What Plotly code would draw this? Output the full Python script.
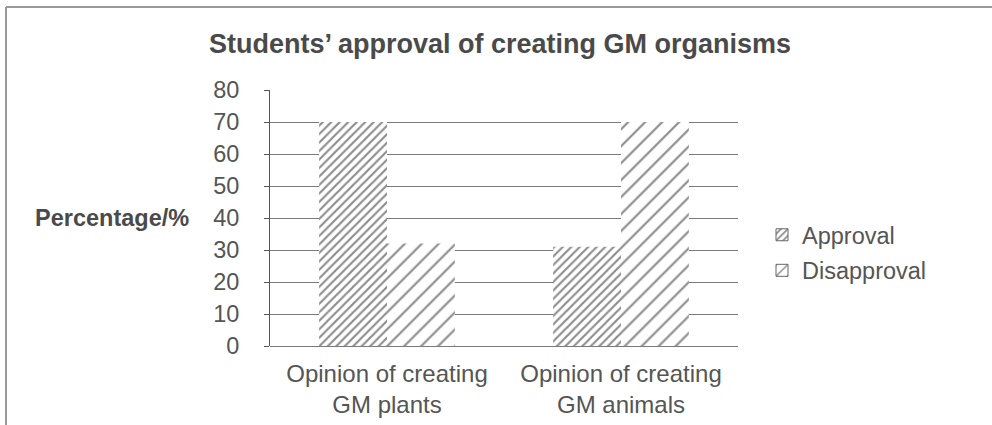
import plotly.graph_objects as go

# Survey results (percent of students)
categories = ["Opinion of creating<br>GM plants", "Opinion of creating<br>GM animals"]
series_names = ["Approval", "Disapproval"]
approval = [70, 31]
disapproval = [32, 70]
y_ticks = [0, 10, 20, 30, 40, 50, 60, 70, 80]

W, H = 992, 425
L, R, T, B = 270, 254, 90, 79  # plot area margins in px

text_col = "#555555"
font_family = "Liberation Sans, Arial, sans-serif"


def px_x(px):
    return (px - L) / (W - L - R)


def px_y(py):
    return (H - B - py) / (H - T - B)


hatch = {
    "Approval": dict(shape="/", size=6, solidity=0.36, fgcolor="#1a1a1a", bgcolor="white"),
    "Disapproval": dict(shape="/", size=12, solidity=0.18, fgcolor="#1a1a1a", bgcolor="white"),
}

fig = go.Figure()
for name, values in zip(series_names, [approval, disapproval]):
    # the bars themselves (no outline)
    fig.add_trace(go.Bar(
        x=categories, y=values, name=name, offsetgroup=name, showlegend=False,
        marker=dict(color="white", line=dict(width=0), pattern=hatch[name]),
    ))
    # legend swatch with a thin grey border
    fig.add_trace(go.Bar(
        x=categories, y=[None] * len(categories), name=name, offsetgroup=name,
        legendgroup=name, showlegend=True, hoverinfo="skip",
        marker=dict(color="white", line=dict(width=1, color="#666666"),
                    pattern=hatch[name]),
    ))

fig.update_layout(
    width=W, height=H,
    margin=dict(l=L, r=R, t=T, b=B, autoexpand=False),
    paper_bgcolor="white", plot_bgcolor="white",
    barmode="group", bargap=0.42, bargroupgap=0,
    font=dict(family=font_family, size=23.5, color=text_col),
    title=dict(text="<b>Students’ approval of creating GM organisms</b>",
               x=0.504, xanchor="center", y=1 - 44 / H, yanchor="middle",
               font=dict(size=27, color="#4a4a4a")),
    legend=dict(x=px_x(762), xanchor="left", y=px_y(213), yanchor="top",
                traceorder="grouped", tracegroupgap=2,
                font=dict(size=23.5, color=text_col),
                bgcolor="rgba(0,0,0,0)"),
    showlegend=True,
)

fig.update_xaxes(
    showline=False, showgrid=False, ticks="",
    ticklabelstandoff=11,
    tickfont=dict(size=24, color=text_col),
)
fig.update_yaxes(
    range=[0, 80], tickvals=y_ticks, ticktext=[str(v) for v in y_ticks],
    showgrid=True, gridcolor="#7a7a7a", gridwidth=1,
    zeroline=True, zerolinecolor="#7a7a7a", zerolinewidth=1,
    showline=True, linecolor="#555555", linewidth=1,
    ticks="outside", ticklen=5, tickcolor="#555555",
    ticklabelstandoff=20,
    tickfont=dict(size=23.5, color=text_col),
)

# Axis caption placed to the left of the tick labels
fig.add_annotation(
    text="<b>Percentage/%</b>", xref="paper", yref="paper",
    x=px_x(191), xanchor="right", y=px_y(218), yanchor="middle",
    showarrow=False, font=dict(size=23.5, color="#4a4a4a"),
)

# Outer frame: top and left edges
frame = dict(color="#9a9a9a", width=2)
fig.add_shape(type="line", xref="paper", yref="paper",
              x0=px_x(6), x1=px_x(W + 2), y0=px_y(7), y1=px_y(7), line=frame)
fig.add_shape(type="line", xref="paper", yref="paper",
              x0=px_x(6), x1=px_x(6), y0=px_y(7), y1=px_y(H + 2), line=frame)

fig.write_html("out.html")
